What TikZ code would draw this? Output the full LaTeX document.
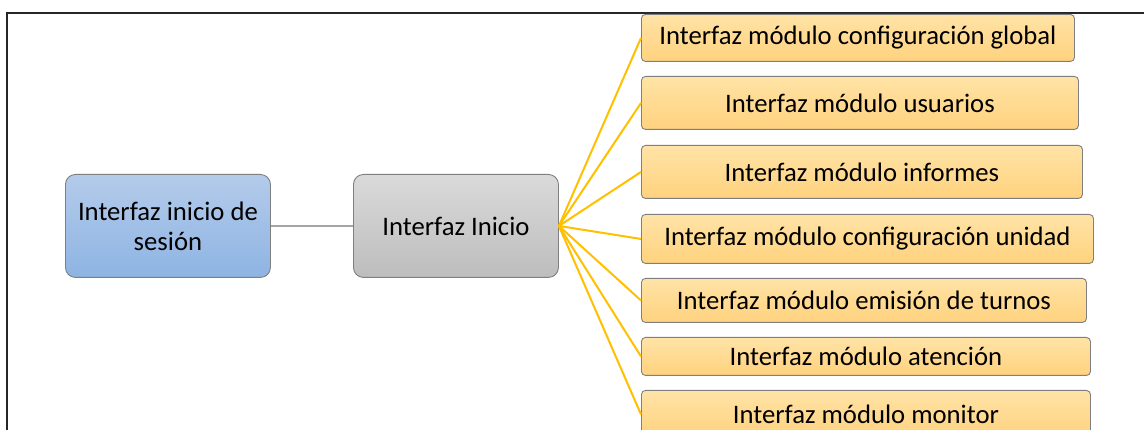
\documentclass[tikz,border=0pt]{standalone}
\usepackage{fontspec}
\setmainfont{Carlito}
\usetikzlibrary{shadings}
\definecolor{blueTop}{HTML}{B4CBEA}
\definecolor{blueBot}{HTML}{8EB4E3}
\definecolor{grayTop}{HTML}{DADADA}
\definecolor{grayBot}{HTML}{BDBDBD}
\definecolor{orTop}{HTML}{FFE3A6}
\definecolor{orBot}{HTML}{FFD27E}
\definecolor{edgeGray}{HTML}{7F7F7F}
\definecolor{linkGray}{HTML}{A5A5A5}
\definecolor{linkGold}{HTML}{FFC000}
\tikzset{
  bigbox/.style={draw=edgeGray, line width=0.9pt, rounded corners=10pt,
    minimum width=205pt, minimum height=103pt, anchor=north west,
    align=center, inner sep=0pt,
    font=\fontsize{26.7}{30}\selectfont},
  bluebox/.style={bigbox, top color=blueTop, bottom color=blueBot},
  graybox/.style={bigbox, top color=grayTop, bottom color=grayBot},
  modbox/.style={draw=edgeGray, line width=0.9pt, rounded corners=4pt,
    top color=orTop, bottom color=orBot, anchor=north west, inner sep=0pt,
    font=\fontsize{26.7}{30}\selectfont},
  greylink/.style={draw=linkGray, line width=2pt},
  goldlink/.style={draw=linkGold, line width=2pt},
  frameline/.style={draw=black!85, line width=2pt}
}
\begin{document}
\begin{tikzpicture}[x=1pt, y=-1pt]
  \clip (0,0) rectangle (1144,430);
  \fill[white] (0,0) rectangle (1144,430);

  % outer frame (top and left sides)
  \coordinate (fTL) at (7,13);
  \coordinate (fTR) at (1144,13);
  \coordinate (fBL) at (7,430);
  \draw[frameline] (fTR) -- (fTL) -- (fBL);

  % main chain
  \node[bluebox] (login) at (65,174) {Interfaz inicio de\\sesión};
  \node[graybox] (home) at (353,174) {Interfaz Inicio};

  % module screens
  \node[modbox, minimum width=433pt, minimum height=47pt] (m1) at (641,14) {Interfaz módulo configuración global};
  \node[modbox, minimum width=437pt, minimum height=53pt] (m2) at (641,76) {Interfaz módulo usuarios};
  \node[modbox, minimum width=441pt, minimum height=53pt] (m3) at (641,145) {Interfaz módulo informes};
  \node[modbox, minimum width=452pt, minimum height=49pt] (m4) at (641,214) {Interfaz módulo configuración unidad};
  \node[modbox, minimum width=445pt, minimum height=44pt] (m5) at (641,278) {Interfaz módulo emisión de turnos};
  \node[modbox, minimum width=449pt, minimum height=38pt] (m6) at (641,337) {Interfaz módulo atención};
  \node[modbox, minimum width=449pt, minimum height=48pt] (m7) at (641,390) {Interfaz módulo monitor};

  % connectors
  \draw[greylink] (login.east) -- (home.west);
  \foreach \m in {m1,m2,m3,m4,m5,m6,m7}
    \draw[goldlink] (home.east) -- (\m.west);
\end{tikzpicture}
\end{document}
